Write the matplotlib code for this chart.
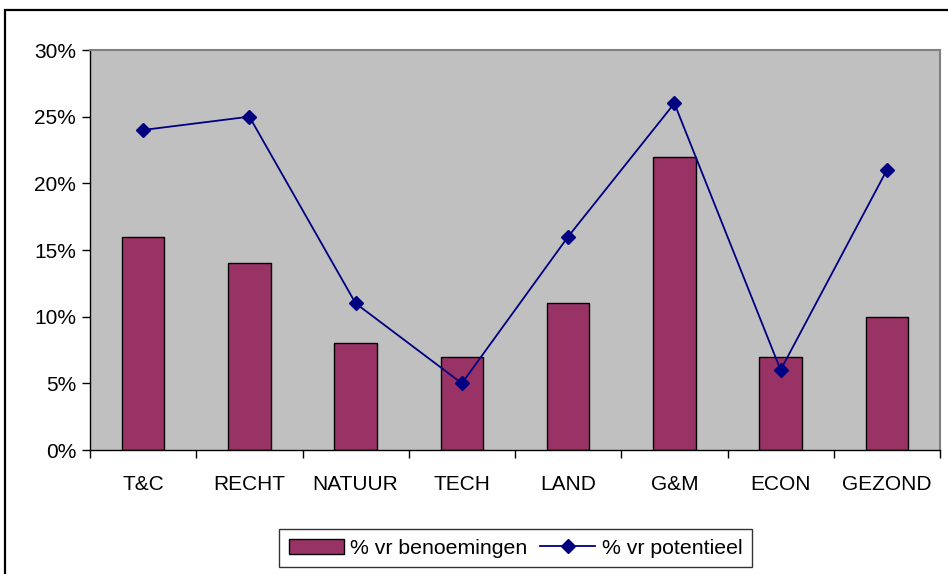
import matplotlib.pyplot as plt
import numpy as np
from matplotlib.patches import Rectangle
from matplotlib.ticker import FixedLocator, NullFormatter

plt.rcParams["font.family"] = ["Liberation Sans", "DejaVu Sans"]

categories = ["T&C", "RECHT", "NATUUR", "TECH", "LAND", "G&M", "ECON", "GEZOND"]
benoemingen = [16, 14, 8, 7, 11, 22, 7, 10]
potentieel = [24, 25, 11, 5, 16, 26, 6, 21]
y_ticks = [0, 5, 10, 15, 20, 25, 30]
y_labels = ["0%", "5%", "10%", "15%", "20%", "25%", "30%"]

W, H = 948, 574
fig = plt.figure(figsize=(W / 100, H / 100), dpi=100)
fig.patch.set_facecolor("white")

# outer chart border (runs off the right and bottom edge)
fig.patches.append(
    Rectangle((5 / W, -0.1), 1.2, (H - 10) / H + 0.1, transform=fig.transFigure,
              fill=False, edgecolor="black", linewidth=1.6)
)

ax = fig.add_axes([90 / W, (H - 450) / H, (940 - 90) / W, 400 / H])
ax.set_facecolor("#C0C0C0")

x = np.arange(len(categories))
bars = ax.bar(x, benoemingen, width=0.4, color="#993366", edgecolor="black",
              linewidth=1.0, label="% vr benoemingen", zorder=2)
line, = ax.plot(x, potentieel, color="#000080", linewidth=1.3, marker="D",
                markersize=7, label="% vr potentieel", zorder=3)

ax.set_xlim(-0.5, len(categories) - 0.5)
ax.set_ylim(0, 30)
ax.set_yticks(y_ticks)
ax.set_yticklabels(y_labels, fontsize=15)
ax.set_xticks(x)
ax.set_xticklabels(categories, fontsize=15)
ax.tick_params(axis="x", which="major", length=0, pad=18)
ax.xaxis.set_minor_locator(FixedLocator(np.arange(-0.5, len(categories), 1)))
ax.xaxis.set_minor_formatter(NullFormatter())
ax.tick_params(axis="x", which="minor", length=6, width=1, direction="out")
ax.tick_params(axis="y", length=6, width=1, direction="out", pad=4)

for side in ["top", "right"]:
    ax.spines[side].set_color("#808080")
    ax.spines[side].set_linewidth(1.5)
for side in ["left", "bottom"]:
    ax.spines[side].set_color("black")
    ax.spines[side].set_linewidth(1.0)

leg = fig.legend([bars, line], ["% vr benoemingen", "% vr potentieel"],
                 loc="center", bbox_to_anchor=(515.5 / W, (H - 548) / H),
                 ncol=2, fontsize=15.3, frameon=True, fancybox=False,
                 edgecolor="black", handlelength=2.6, columnspacing=0.6,
                 handletextpad=0.3, borderpad=0.45, borderaxespad=0)
leg.get_frame().set_linewidth(1.0)

fig.savefig("out.png", dpi=100)
